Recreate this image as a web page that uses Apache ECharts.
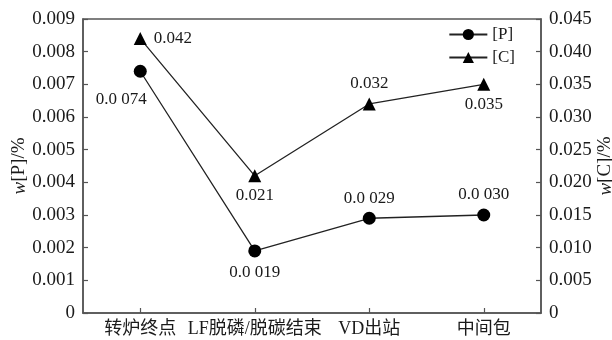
<!DOCTYPE html>
<html>
<head>
<meta charset="utf-8">
<script src="https://cdn.jsdelivr.net/npm/echarts@6/dist/echarts.min.js"></script>
<style>
  html, body { margin: 0; padding: 0; background: #fff; }
  #chart { width: 612px; height: 340px; }
</style>
</head>
<body>
<div id="chart"></div>
<script>
// Process stages along the refining route
const categories = ['转炉终点', 'LF脱磷/脱碳结束', 'VD出站', '中间包'];
// Mass fraction of phosphorus, %
const phosphorus = [0.0074, 0.0019, 0.0029, 0.0030];
// Mass fraction of carbon, %
const carbon = [0.042, 0.021, 0.032, 0.035];
// Axis tick settings
const pTicks = { min: 0, max: 0.009, interval: 0.001 };
const cTicks = { min: 0, max: 0.045, interval: 0.005 };

const serif = '"Liberation Serif", "Times New Roman", serif';
const cjk = '"Liberation Serif", "Noto Sans CJK SC", serif';
const ink = '#1a1a1a';
const axisColor = '#555';

// Phosphorus labels are written with a thin gap after "0.0"
const pText = v => { const s = v.toFixed(4); return s.slice(0, 3) + ' ' + s.slice(3); };
const cText = v => v.toFixed(3);

const pLabel = [
  { position: 'bottom', offset: [-19, 8] },
  { position: 'bottom', offset: [0, 2] },
  { position: 'top', offset: [0, 0] },
  { position: 'top', offset: [0, 0] }
];
const cLabel = [
  { position: 'right', offset: [2, 0] },
  { position: 'bottom', offset: [0, 0] },
  { position: 'top', offset: [0, 0] },
  { position: 'bottom', offset: [0, 0] }
];

const axisCommon = {
  axisLine: { show: true, lineStyle: { color: axisColor, width: 1.5 } },
  axisTick: { show: true, inside: true, length: 5, lineStyle: { color: axisColor, width: 1.2 } },
  splitLine: { show: false },
  axisLabel: { color: ink, fontFamily: serif, fontSize: 19 }
};

const nameRich = {
  i: { fontFamily: serif, fontStyle: 'italic', fontSize: 19, color: ink },
  n: { fontFamily: serif, fontSize: 19, color: ink }
};

const chart = echarts.init(document.getElementById('chart'));
chart.setOption({
  animation: false,
  backgroundColor: '#fff',
  grid: {
    left: 83, right: 71, top: 19, bottom: 27,
    outerBoundsMode: 'none',
    show: true, borderColor: axisColor, borderWidth: 1.5
  },
  legend: {
    right: 92,
    top: 21,
    orient: 'vertical',
    itemWidth: 38,
    itemHeight: 14,
    itemGap: 6,
    textStyle: { fontFamily: serif, fontSize: 17, color: ink },
    data: ['[P]', '[C]']
  },
  xAxis: {
    type: 'category',
    data: categories,
    boundaryGap: true,
    ...axisCommon,
    axisTick: { show: true, inside: true, alignWithLabel: true, length: 5, lineStyle: { color: axisColor, width: 1.2 } },
    axisLabel: { color: ink, fontFamily: cjk, fontSize: 18, margin: 7, interval: 0 }
  },
  yAxis: [
    {
      type: 'value',
      ...pTicks,
      position: 'left',
      ...axisCommon,
      axisLabel: { ...axisCommon.axisLabel, formatter: v => v === 0 ? '0' : v.toFixed(3) },
      name: '{i|w}{n|[P]/%}',
      nameLocation: 'middle',
      nameGap: 54,
      nameMoveOverlap: false,
      nameRotate: 90,
      nameTextStyle: { rich: nameRich }
    },
    {
      type: 'value',
      ...cTicks,
      position: 'right',
      ...axisCommon,
      axisLabel: { ...axisCommon.axisLabel, formatter: v => v === 0 ? '0' : v.toFixed(3) },
      name: '{i|w}{n|[C]/%}',
      nameLocation: 'middle',
      nameGap: 55,
      nameMoveOverlap: false,
      nameRotate: 90,
      nameTextStyle: { rich: nameRich }
    }
  ],
  series: [
    {
      name: '[P]',
      type: 'line',
      yAxisIndex: 0,
      data: phosphorus.map((v, i) => ({ value: v, label: pLabel[i] })),
      symbol: 'circle',
      symbolSize: 13,
      itemStyle: { color: '#000' },
      lineStyle: { color: '#222', width: 1.3 },
      label: { show: true, fontFamily: serif, fontSize: 17, color: ink, formatter: p => pText(p.value) }
    },
    {
      name: '[C]',
      type: 'line',
      yAxisIndex: 1,
      data: carbon.map((v, i) => ({ value: v, label: cLabel[i] })),
      symbol: 'triangle',
      symbolSize: 13,
      itemStyle: { color: '#000' },
      lineStyle: { color: '#222', width: 1.3 },
      label: { show: true, fontFamily: serif, fontSize: 17, color: ink, formatter: p => cText(p.value) }
    }
  ]
});
</script>
</body>
</html>
